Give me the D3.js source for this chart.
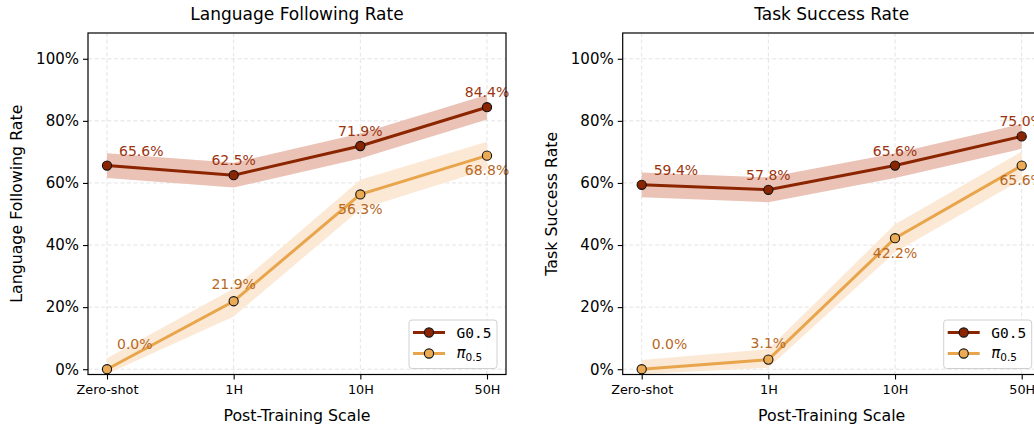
<!DOCTYPE html>
<html>
<head>
<meta charset="utf-8">
<script src="https://cdn.jsdelivr.net/npm/d3@7"></script>
<style>
  body { margin: 0; background: #fff; }
  svg { display: block; font-family: "DejaVu Sans", sans-serif; }
</style>
</head>
<body>
<svg id="chart" width="1034" height="425"></svg>
<script>
// ---- data -------------------------------------------------------------
const categories = ["Zero-shot", "1H", "10H", "50H"];
const yTicks = [0, 20, 40, 60, 80, 100];

const langG05 = [65.6, 62.5, 71.9, 84.4];
const langG05Lo = [61.6, 58.5, 67.9, 80.4];
const langG05Hi = [69.6, 66.5, 75.9, 88.4];
const langPi05 = [0.0, 21.9, 56.3, 68.8];
const langPi05Lo = [-1.5, 17.0, 51.5, 64.3];
const langPi05Hi = [3.5, 26.0, 61.0, 73.3];

const taskG05 = [59.4, 57.8, 65.6, 75.0];
const taskG05Lo = [55.4, 53.8, 61.6, 71.0];
const taskG05Hi = [63.4, 61.8, 69.6, 79.0];
const taskPi05 = [0.0, 3.1, 42.2, 65.6];
const taskPi05Lo = [-1.5, 0.5, 37.7, 61.1];
const taskPi05Hi = [3.0, 6.5, 46.7, 70.1];

// label side for the baseline series at each scale
const piLabelSide = ["above", "above", "below", "below"];

// ---- style ------------------------------------------------------------
const G = { line: "#8b2500", marker: "#8b2500", text: "#9b3510", band: "#ebc3b6" };
const P = { line: "#e8a54b", marker: "#ebab55", text: "#b8681e", band: "#fbe9d5" };

const svg = d3.select("#chart");
const W = 418, H = 341.5, TOP = 33;
const fmt = v => d3.format(".1f")(v) + "%";

function drawPanel(left, title, ylabel, gv, glo, ghi, pv, plo, phi) {
  const g = svg.append("g").attr("transform", `translate(${left},${TOP})`);
  const x = d3.scalePoint().domain(categories).range([0, W]).padding(0.15);
  const y = d3.scaleLinear().domain([-1.7, 108.3]).range([H, 0]);

  // grid
  g.append("g").selectAll("line.gy").data(yTicks).join("line")
    .attr("x1", 0).attr("x2", W).attr("y1", d => y(d)).attr("y2", d => y(d))
    .attr("stroke", "#dcdcdc").attr("stroke-width", 0.8).attr("stroke-dasharray", "4,2.5");
  g.append("g").selectAll("line.gx").data(categories).join("line")
    .attr("y1", 0).attr("y2", H).attr("x1", d => x(d)).attr("x2", d => x(d))
    .attr("stroke", "#dcdcdc").attr("stroke-width", 0.8).attr("stroke-dasharray", "4,2.5");

  const area = (lo, hi) => d3.area()
    .x((d, i) => x(categories[i])).y0((d, i) => y(lo[i])).y1((d, i) => y(hi[i]))(categories);
  const line = vals => d3.line().x((d, i) => x(categories[i])).y(d => y(d))(vals);

  // bands
  g.append("path").attr("d", area(glo, ghi)).attr("fill", G.band);
  g.append("path").attr("d", area(plo, phi)).attr("fill", P.band);

  // lines
  g.append("path").attr("d", line(gv)).attr("fill", "none").attr("stroke", G.line).attr("stroke-width", 3);
  g.append("path").attr("d", line(pv)).attr("fill", "none").attr("stroke", P.line).attr("stroke-width", 3);

  // markers
  g.append("g").selectAll("circle").data(gv).join("circle")
    .attr("cx", (d, i) => x(categories[i])).attr("cy", d => y(d)).attr("r", 4.6)
    .attr("fill", G.marker).attr("stroke", "#111").attr("stroke-width", 1.1);
  g.append("g").selectAll("circle").data(pv).join("circle")
    .attr("cx", (d, i) => x(categories[i])).attr("cy", d => y(d)).attr("r", 4.6)
    .attr("fill", P.marker).attr("stroke", "#111").attr("stroke-width", 1.1);

  // value labels
  g.append("g").selectAll("text").data(gv).join("text")
    .attr("x", (d, i) => x(categories[i]) + (i === 0 ? 12 : 0))
    .attr("y", d => y(d) - 10)
    .attr("text-anchor", (d, i) => i === 0 ? "start" : "middle")
    .attr("font-size", 14).attr("fill", G.text).text(fmt);
  g.append("g").selectAll("text").data(pv).join("text")
    .attr("x", (d, i) => x(categories[i]) + (i === 0 ? 10 : 0))
    .attr("y", (d, i) => y(d) + (piLabelSide[i] === "below" ? 19.5 : (i === 0 ? -20 : -12)))
    .attr("text-anchor", (d, i) => i === 0 ? "start" : "middle")
    .attr("font-size", 14).attr("fill", P.text).text(fmt);

  // axes
  const ya = g.append("g").call(d3.axisLeft(y).tickValues(yTicks).tickFormat(d => d + "%").tickSize(5).tickPadding(4));
  ya.select(".domain").remove();
  ya.selectAll("text").attr("font-size", 15).attr("fill", "#000").attr("font-family", "DejaVu Sans");
  ya.selectAll("line").attr("stroke", "#000").attr("stroke-width", 1.1);

  const xa = g.append("g").attr("transform", `translate(0,${H})`).call(d3.axisBottom(x).tickSize(5).tickPadding(5));
  xa.select(".domain").remove();
  xa.selectAll("text").attr("font-size", 12.8).attr("fill", "#000").attr("font-family", "DejaVu Sans");
  xa.selectAll("line").attr("stroke", "#000").attr("stroke-width", 1.1);

  // frame
  g.append("rect").attr("width", W).attr("height", H).attr("fill", "none")
    .attr("stroke", "#000").attr("stroke-width", 1.2);

  // titles
  g.append("text").attr("x", W / 2).attr("y", -13).attr("text-anchor", "middle")
    .attr("font-size", 17).text(title);
  g.append("text").attr("x", W / 2).attr("y", H + 46).attr("text-anchor", "middle")
    .attr("font-size", 15.8).text("Post-Training Scale");
  g.append("text").attr("transform", `translate(-66,${H / 2}) rotate(-90)`)
    .attr("text-anchor", "middle").attr("font-size", 15.8).text(ylabel);

  // legend
  const lg = g.append("g").attr("transform", `translate(${W - 97},${H - 54.5})`);
  lg.append("rect").attr("width", 88).attr("height", 48.5).attr("rx", 3)
    .attr("fill", "#fff").attr("fill-opacity", 0.85).attr("stroke", "#d0d0d0").attr("stroke-width", 1);
  const rows = [{ c: G, y: 12.5 }, { c: P, y: 33.5 }];
  rows.forEach(r => {
    lg.append("line").attr("x1", 4).attr("x2", 36).attr("y1", r.y).attr("y2", r.y)
      .attr("stroke", r.c.line).attr("stroke-width", 3);
    lg.append("circle").attr("cx", 20).attr("cy", r.y).attr("r", 4.6)
      .attr("fill", r.c.marker).attr("stroke", "#111").attr("stroke-width", 1.1);
  });
  lg.append("text").attr("x", 47.5).attr("y", rows[0].y + 5).attr("font-family", "DejaVu Sans Mono")
    .attr("font-size", 14.5).text("G0.5");
  const pt = lg.append("text").attr("x", 47.5).attr("y", rows[1].y + 4.5);
  pt.append("tspan").attr("font-style", "italic").attr("font-size", 15).text("π");
  pt.append("tspan").attr("font-size", 10.5).attr("dy", 3).text("0.5");
}

drawPanel(88, "Language Following Rate", "Language Following Rate",
  langG05, langG05Lo, langG05Hi, langPi05, langPi05Lo, langPi05Hi);
drawPanel(622.7, "Task Success Rate", "Task Success Rate",
  taskG05, taskG05Lo, taskG05Hi, taskPi05, taskPi05Lo, taskPi05Hi);
</script>
</body>
</html>
